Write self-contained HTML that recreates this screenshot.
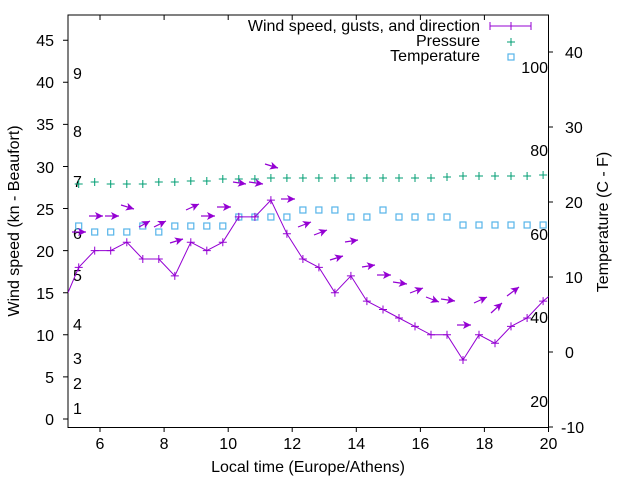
<!DOCTYPE html>
<html><head><meta charset="utf-8"><style>
html,body{margin:0;padding:0;background:#fff;}
svg{display:block;font-family:"Liberation Sans",Arial,sans-serif;font-size:16px;fill:#000;}
</style></head><body>
<svg width="640" height="480" viewBox="0 0 640 480" xmlns="http://www.w3.org/2000/svg">
<defs>
<marker id="ah" markerUnits="userSpaceOnUse" markerWidth="9" markerHeight="8" refX="8" refY="4" orient="auto">
<path d="M0,0 L8,4 L0,8 L2,4 z" fill="#9400d3"/>
</marker>
<clipPath id="pc"><rect x="68" y="15" width="480.5" height="412.5"/></clipPath>
</defs>
<rect width="640" height="480" fill="#fff"/>
<!-- frame -->
<g stroke="#000" stroke-width="1" fill="none">
<rect x="68" y="15" width="480.5" height="412.5"/>
<!-- left ticks -->
<path d="M63,419H68M63,376.9H68M63,334.8H68M63,292.7H68M63,250.6H68M63,208.5H68M63,166.5H68M63,124.4H68M63,82.3H68M63,40.2H68"/>
<!-- right ticks -->
<path d="M548.5,52H553M548.5,127H553M548.5,202H553M548.5,277H553M548.5,352H553M548.5,427H553"/>
<!-- bottom ticks -->
<path d="M100,427.5V432M164.1,427.5V432M228.2,427.5V432M292.2,427.5V432M356.3,427.5V432M420.4,427.5V432M484.4,427.5V432M548.5,427.5V432"/>
<!-- top ticks -->
<path d="M100,15V20M164.1,15V20M228.2,15V20M292.2,15V20M356.3,15V20M420.4,15V20M484.4,15V20"/>
</g>
<!-- left labels -->
<g text-anchor="end">
<text x="54" y="425">0</text><text x="54" y="383">5</text><text x="54" y="341">10</text>
<text x="54" y="299">15</text><text x="54" y="257">20</text><text x="54" y="215">25</text>
<text x="54" y="173">30</text><text x="54" y="130">35</text><text x="54" y="88">40</text>
<text x="54" y="46">45</text>
</g>
<!-- right labels -->
<g text-anchor="start">
<text x="565" y="58">40</text><text x="565" y="133">30</text><text x="565" y="208">20</text>
<text x="565" y="283">10</text><text x="565" y="358">0</text><text x="561" y="433">-10</text>
</g>
<!-- x labels -->
<g text-anchor="middle">
<text x="100" y="449">6</text><text x="164.1" y="449">8</text><text x="228.2" y="449">10</text>
<text x="292.2" y="449">12</text><text x="356.3" y="449">14</text><text x="420.4" y="449">16</text>
<text x="484.4" y="449">18</text><text x="548.5" y="449">20</text>
</g>
<text x="308" y="472" text-anchor="middle">Local time (Europe/Athens)</text>
<text transform="translate(19,221) rotate(-90)" text-anchor="middle">Wind speed (kn - Beaufort)</text>
<text transform="translate(608,222) rotate(-90)" text-anchor="middle">Temperature (C - F)</text>
<!-- Beaufort labels -->
<g>
<text x="73" y="414">1</text><text x="73" y="389">2</text><text x="73" y="364">3</text>
<text x="73" y="330">4</text><text x="73" y="281">5</text><text x="73" y="239">6</text>
<text x="73" y="187">7</text><text x="73" y="137">8</text><text x="73" y="79">9</text>
</g>
<!-- Fahrenheit labels -->
<g text-anchor="end">
<text x="548" y="73">100</text><text x="548" y="156">80</text><text x="548" y="240">60</text>
<text x="548" y="323">40</text><text x="548" y="407">20</text>
</g>
<g clip-path="url(#pc)">
<!-- pressure -->
<g stroke="#009e73" stroke-width="1" fill="none">
<path d="M74.7,184h8M78.7,180v8 M90.7,182h8M94.7,178v8 M106.7,184h8M110.7,180v8 M122.8,184h8M126.8,180v8 M138.8,184h8M142.8,180v8 M154.8,182h8M158.8,178v8 M170.8,182h8M174.8,178v8 M186.8,181h8M190.8,177v8 M202.8,181h8M206.8,177v8 M218.8,179h8M222.8,175v8 M234.8,179h8M238.8,175v8 M250.9,179h8M254.9,175v8 M266.9,178h8M270.9,174v8 M282.9,178h8M286.9,174v8 M298.9,178h8M302.9,174v8 M314.9,178h8M318.9,174v8 M330.9,178h8M334.9,174v8 M346.9,178h8M350.9,174v8 M362.9,178h8M366.9,174v8 M379,178h8M383,174v8 M395,178h8M399,174v8 M411,178h8M415,174v8 M427,178h8M431,174v8 M443,177h8M447,173v8 M459,176h8M463,172v8 M475,176h8M479,172v8 M491,176h8M495,172v8 M507,176h8M511,172v8 M523.1,176h8M527.1,172v8 M539.1,175h8M543.1,171v8"/>
</g>
<!-- temperature -->
<g stroke="#56b4e9" stroke-width="1.2" fill="none">
<rect x="75.7" y="223" width="6" height="6"/><rect x="91.7" y="229" width="6" height="6"/>
<rect x="107.7" y="229" width="6" height="6"/><rect x="123.8" y="229" width="6" height="6"/>
<rect x="139.8" y="223" width="6" height="6"/><rect x="155.8" y="229" width="6" height="6"/>
<rect x="171.8" y="223" width="6" height="6"/><rect x="187.8" y="223" width="6" height="6"/>
<rect x="203.8" y="223" width="6" height="6"/><rect x="219.8" y="223" width="6" height="6"/>
<rect x="235.8" y="214" width="6" height="6"/><rect x="251.9" y="214" width="6" height="6"/>
<rect x="267.9" y="214" width="6" height="6"/><rect x="283.9" y="214" width="6" height="6"/>
<rect x="299.9" y="207" width="6" height="6"/><rect x="315.9" y="207" width="6" height="6"/>
<rect x="331.9" y="207" width="6" height="6"/><rect x="347.9" y="214" width="6" height="6"/>
<rect x="363.9" y="214" width="6" height="6"/><rect x="380" y="207" width="6" height="6"/>
<rect x="396" y="214" width="6" height="6"/><rect x="412" y="214" width="6" height="6"/>
<rect x="428" y="214" width="6" height="6"/><rect x="444" y="214" width="6" height="6"/>
<rect x="460" y="222" width="6" height="6"/><rect x="476" y="222" width="6" height="6"/>
<rect x="492" y="222" width="6" height="6"/><rect x="508" y="222" width="6" height="6"/>
<rect x="524.1" y="222" width="6" height="6"/><rect x="540.1" y="222" width="6" height="6"/>
</g>
<!-- wind line -->
<g stroke="#9400d3" stroke-width="1" fill="none">
<polyline points="68,292.7 78.7,267.4 94.7,250.6 110.7,250.6 126.8,242.2 142.8,259 158.8,259 174.8,275.9 190.8,242.2 206.8,250.6 222.8,242.2 238.8,216.9 254.9,216.9 270.9,200.1 286.9,233.8 302.9,259 318.9,267.4 334.9,292.7 350.9,275.9 366.9,301.1 383,309.5 399,318 415,326.4 431,334.8 447,334.8 463,360 479,334.8 495,343.2 511,326.4 527.1,318 543.1,301.1 553,293"/>
<path d="M74.7,267.4h8M78.7,263.4v8 M90.7,250.6h8M94.7,246.6v8 M106.7,250.6h8M110.7,246.6v8 M122.8,242.2h8M126.8,238.2v8 M138.8,259h8M142.8,255v8 M154.8,259h8M158.8,255v8 M170.8,275.9h8M174.8,271.9v8 M186.8,242.2h8M190.8,238.2v8 M202.8,250.6h8M206.8,246.6v8 M218.8,242.2h8M222.8,238.2v8 M234.8,216.9h8M238.8,212.9v8 M250.9,216.9h8M254.9,212.9v8 M266.9,200.1h8M270.9,196.1v8 M282.9,233.8h8M286.9,229.8v8 M298.9,259h8M302.9,255v8 M314.9,267.4h8M318.9,263.4v8 M330.9,292.7h8M334.9,288.7v8 M346.9,275.9h8M350.9,271.9v8 M362.9,301.1h8M366.9,297.1v8 M379,309.5h8M383,305.5v8 M395,318h8M399,314v8 M411,326.4h8M415,322.4v8 M427,334.8h8M431,330.8v8 M443,334.8h8M447,330.8v8 M459,360h8M463,356v8 M475,334.8h8M479,330.8v8 M491,343.2h8M495,339.2v8 M507,326.4h8M511,322.4v8 M523.1,318h8M527.1,314v8 M539.1,301.1h8M543.1,297.1v8"/>
</g>
<!-- direction arrows -->
<g stroke="#9400d3" stroke-width="1.2" fill="none" marker-end="url(#ah)">
<line x1="72" y1="232" x2="86" y2="232"/>
<line x1="89" y1="216" x2="103" y2="216"/>
<line x1="105" y1="216" x2="119" y2="216"/>
<line x1="121" y1="205" x2="134" y2="209"/>
<line x1="139" y1="227" x2="150" y2="221"/>
<line x1="154" y1="227" x2="166" y2="221"/>
<line x1="170" y1="243" x2="183" y2="239"/>
<line x1="186" y1="210" x2="199" y2="204"/>
<line x1="201" y1="216" x2="215" y2="216"/>
<line x1="217" y1="207" x2="231" y2="207"/>
<line x1="233" y1="182" x2="246" y2="184"/>
<line x1="249" y1="182" x2="263" y2="184"/>
<line x1="265" y1="164" x2="278" y2="168"/>
<line x1="281" y1="199" x2="295" y2="199"/>
<line x1="298" y1="227" x2="311" y2="222"/>
<line x1="314" y1="235" x2="327" y2="230"/>
<line x1="330" y1="260" x2="343" y2="256"/>
<line x1="345" y1="242" x2="358" y2="240"/>
<line x1="362" y1="267" x2="375" y2="265"/>
<line x1="377" y1="275" x2="391" y2="275"/>
<line x1="393" y1="282" x2="407" y2="284"/>
<line x1="410" y1="293" x2="423" y2="288"/>
<line x1="426" y1="297" x2="439" y2="302"/>
<line x1="441" y1="299" x2="455" y2="301"/>
<line x1="457" y1="325" x2="471" y2="325"/>
<line x1="474" y1="303" x2="487" y2="297"/>
<line x1="491" y1="313" x2="502" y2="303"/>
<line x1="507" y1="296" x2="519" y2="287"/>
</g>
</g>
<!-- legend -->
<g text-anchor="end">
<text x="480" y="31">Wind speed, gusts, and direction</text>
<text x="480" y="46">Pressure</text>
<text x="480" y="61">Temperature</text>
</g>
<g stroke="#9400d3" stroke-width="1" fill="none">
<path d="M490,26H531M490,22v8M531,22v8M511,22v8"/>
</g>
<path d="M507,42h8M511,38v8" stroke="#009e73" fill="none"/>
<rect x="508" y="54" width="6" height="6" stroke="#56b4e9" stroke-width="1.2" fill="none"/>
</svg>
</body></html>
